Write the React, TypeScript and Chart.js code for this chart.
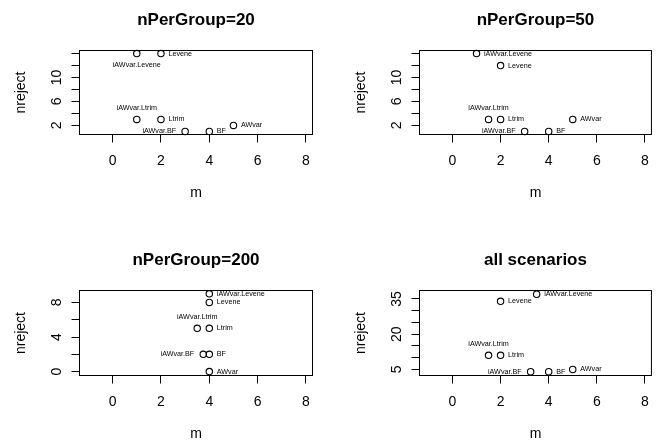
import React, { useEffect, useRef } from "react";
import { Chart, registerables } from "chart.js";
Chart.register(...registerables);

const FONT = "'Liberation Sans', Arial, Helvetica, sans-serif";

const methods = ["iAWvar.Levene", "Levene", "iAWvar.Ltrim", "Ltrim", "iAWvar.BF", "BF", "AWvar"];

// nPerGroup=20
const m20 = [1, 2, 1, 2, 3, 4, 5];
const nreject20 = [14, 14, 3, 3, 1, 1, 2];
const pos20 = [1, 4, 3, 4, 2, 4, 4];

// nPerGroup=50
const m50 = [1, 2, 1.5, 2, 3, 4, 5];
const nreject50 = [14, 12, 3, 3, 1, 1, 3];
const pos50 = [4, 4, 3, 4, 2, 4, 4];

// nPerGroup=200
const m200 = [4, 4, 3.5, 4, 3.75, 4, 4];
const nreject200 = [9, 8, 5, 5, 2, 2, 0];
const pos200 = [4, 4, 3, 4, 2, 4, 4];

// all scenarios
const mAll = [3.5, 2, 1.5, 2, 3.25, 4, 5];
const nrejectAll = [37, 34, 11, 11, 4, 4, 5];
const posAll = [4, 4, 3, 4, 2, 4, 4];

const xTicks = [0, 2, 4, 6, 8];
const xRange = [-1.37, 8.27];

const yTicks20 = [2, 4, 6, 8, 10, 12, 14];
const yLabels20 = [2, 6, 10];
const yRange20 = [0.48, 14.52];

const yTicks200 = [0, 2, 4, 6, 8];
const yLabels200 = [0, 4, 8];
const yRange200 = [-0.45, 9.38];

const yTicksAll = [5, 10, 15, 20, 25, 30, 35];
const yLabelsAll = [5, 20, 35];
const yRangeAll = [2.4, 38.6];

type PanelDef = {
  title: string;
  xs: number[];
  ys: number[];
  pos: number[];
  yTicks: number[];
  yLabels: number[];
  yRange: number[];
};

const panels: PanelDef[] = [
  { title: "nPerGroup=20", xs: m20, ys: nreject20, pos: pos20, yTicks: yTicks20, yLabels: yLabels20, yRange: yRange20 },
  { title: "nPerGroup=50", xs: m50, ys: nreject50, pos: pos50, yTicks: yTicks20, yLabels: yLabels20, yRange: yRange20 },
  { title: "nPerGroup=200", xs: m200, ys: nreject200, pos: pos200, yTicks: yTicks200, yLabels: yLabels200, yRange: yRange200 },
  { title: "all scenarios", xs: mAll, ys: nrejectAll, pos: posAll, yTicks: yTicksAll, yLabels: yLabelsAll, yRange: yRangeAll },
];

const layouts = [
  { left: 0, top: 0, width: 330, height: 222, pad: { left: 79.5, right: 17.5, top: 50.5, bottom: 0 }, xh: 87.5 },
  { left: 330, top: 0, width: 329, height: 222, pad: { left: 89.5, right: 6.5, top: 50.5, bottom: 0 }, xh: 87.5 },
  { left: 0, top: 222, width: 330, height: 222, pad: { left: 79.5, right: 17.5, top: 68.5, bottom: 0 }, xh: 68.5 },
  { left: 330, top: 222, width: 329, height: 222, pad: { left: 89.5, right: 6.5, top: 68.5, bottom: 0 }, xh: 68.5 },
];

function makeDecor(p: PanelDef) {
  return {
    id: "rdecor",
    afterDraw(chart: any) {
      const { ctx, chartArea: a } = chart;
      const x = chart.scales.x;
      const y = chart.scales.y;
      ctx.save();
      ctx.strokeStyle = "#000";
      ctx.lineWidth = 1;
      ctx.strokeRect(a.left, a.top, a.right - a.left, a.bottom - a.top);
      ctx.fillStyle = "#000";

      // y tick labels (rotated, parallel to axis)
      ctx.font = `14px ${FONT}`;
      ctx.textAlign = "center";
      ctx.textBaseline = "alphabetic";
      for (const v of p.yLabels) {
        const py = y.getPixelForValue(v);
        ctx.save();
        ctx.translate(a.left - 19, py);
        ctx.rotate(-Math.PI / 2);
        ctx.fillText(String(v), 0, 0);
        ctx.restore();
      }

      // axis titles
      const cx = (a.left + a.right) / 2;
      const cy = (a.top + a.bottom) / 2;
      ctx.fillText("m", cx, a.bottom + 62.5);
      ctx.save();
      ctx.translate(a.left - 55, cy);
      ctx.rotate(-Math.PI / 2);
      ctx.fillText("nreject", 0, 0);
      ctx.restore();

      // main title
      ctx.font = `bold 17px ${FONT}`;
      ctx.fillText(p.title, cx, a.top - 26);

      // point labels
      ctx.font = `7.2px ${FONT}`;
      ctx.textBaseline = "middle";
      for (let i = 0; i < methods.length; i++) {
        const px = x.getPixelForValue(p.xs[i]);
        const py = y.getPixelForValue(p.ys[i]);
        const ps = p.pos[i];
        if (ps === 1) {
          ctx.textAlign = "center";
          ctx.fillText(methods[i], px, py + 11);
        } else if (ps === 3) {
          ctx.textAlign = "center";
          ctx.fillText(methods[i], px, py - 11);
        } else if (ps === 2) {
          ctx.textAlign = "right";
          ctx.fillText(methods[i], px - 9, py);
        } else {
          ctx.textAlign = "left";
          ctx.fillText(methods[i], px + 7.5, py);
        }
      }
      ctx.restore();
    },
  };
}

function Panel({ p, l }: { p: PanelDef; l: (typeof layouts)[number] }) {
  const ref = useRef<HTMLCanvasElement>(null);
  useEffect(() => {
    if (!ref.current) return;
    const chart = new Chart(ref.current, {
      type: "scatter",
      data: {
        datasets: [
          {
            data: p.xs.map((v, i) => ({ x: v, y: p.ys[i] })),
            pointStyle: "circle",
            pointRadius: 3.2,
            pointBorderWidth: 1.1,
            borderColor: "#000",
            backgroundColor: "rgba(0,0,0,0)",
            clip: false as any,
          },
        ],
      },
      options: {
        responsive: false,
        animation: false,
        events: [],
        layout: { padding: l.pad },
        plugins: { legend: { display: false }, tooltip: { enabled: false }, title: { display: false } },
        scales: {
          x: {
            type: "linear",
            position: "bottom",
            min: xRange[0],
            max: xRange[1],
            afterBuildTicks: (s: any) => {
              s.ticks = xTicks.map((v) => ({ value: v }));
            },
            afterFit: (s: any) => {
              s.height = l.xh;
            },
            grid: { display: true, drawOnChartArea: false, drawTicks: true, tickLength: 8, color: "#000", lineWidth: 1 },
            border: { display: false },
            ticks: { autoSkip: false, maxRotation: 0, minRotation: 0, color: "#000", font: { size: 14, family: FONT }, padding: 10 },
          },
          y: {
            type: "linear",
            position: "left",
            min: p.yRange[0],
            max: p.yRange[1],
            afterBuildTicks: (s: any) => {
              s.ticks = p.yTicks.map((v) => ({ value: v }));
            },
            afterFit: (s: any) => {
              s.width = 0;
            },
            grid: { display: true, drawOnChartArea: false, drawTicks: true, tickLength: 8, color: "#000", lineWidth: 1 },
            border: { display: false },
            ticks: { display: false },
          },
        },
      },
      plugins: [makeDecor(p)],
    } as any);
    return () => chart.destroy();
  }, []);
  return (
    <div style={{ position: "absolute", left: l.left, top: l.top, width: l.width, height: l.height }}>
      <canvas ref={ref} width={l.width} height={l.height} style={{ display: "block", width: l.width, height: l.height }} />
    </div>
  );
}

export default function App() {
  return (
    <div style={{ position: "absolute", left: 0, top: 0, width: 659, height: 444, background: "#fff", overflow: "hidden" }}>
      {panels.map((p, i) => (
        <Panel key={i} p={p} l={layouts[i]} />
      ))}
    </div>
  );
}
